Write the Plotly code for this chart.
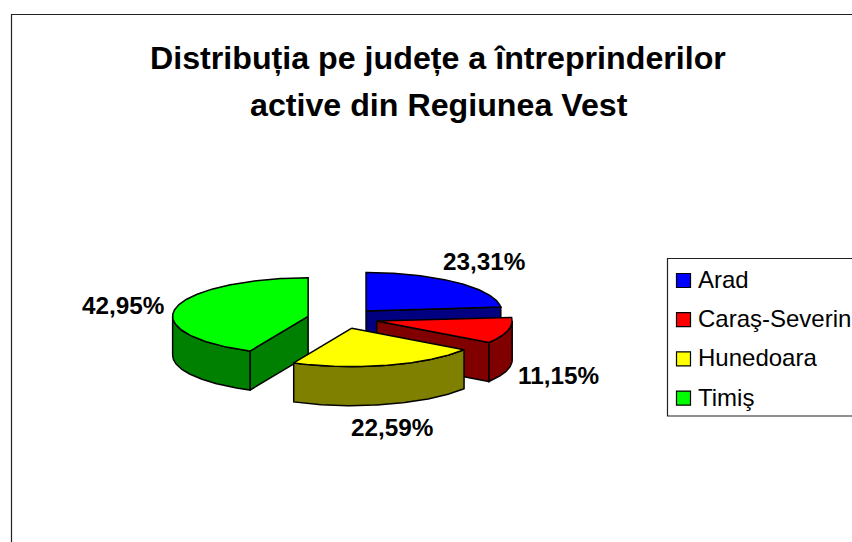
import numpy as np
import plotly.graph_objects as go

counties = ["Arad", "Caraş-Severin", "Hunedoara", "Timiş"]
shares = [23.31, 11.15, 22.59, 42.95]
top_colors = ["#0000FF", "#FF0000", "#FFFF00", "#00FF00"]
side_colors = ["#000080", "#800000", "#808000", "#008000"]
title_lines = ["Distribuția pe județe a întreprinderilor", "active din Regiunea Vest"]

W, H = 852, 542
CX, CY = 342.5, 318.5    # pie centre in pixels
RX, RY = 135.5, 38.5     # ellipse radii
DEPTH = 39               # extrusion height
EXPLODE = 0.26           # explosion as fraction of radius
label_pos = [(484, 261), (558, 375), (392, 427), (123, 305)]

fig = go.Figure()


def pt(ang, ox, oy, r=1.0, dz=0.0):
    a = np.radians(ang)
    return ox + RX * r * np.sin(a), oy - RY * r * np.cos(a) + dz


def poly(xs, ys, color):
    fig.add_trace(go.Scatter(
        x=list(xs) + [xs[0]], y=list(ys) + [ys[0]], mode="lines", fill="toself",
        fillcolor=color, line=dict(color="black", width=1.5),
        showlegend=False, hoverinfo="skip"))


# slice angles, clockwise from 12 o'clock
edges = np.concatenate([[0], np.cumsum(shares)]) / sum(shares) * 360
slices = []
for i, name in enumerate(counties):
    a0, a1 = edges[i], edges[i + 1]
    mid = np.radians((a0 + a1) / 2)
    ox = CX + EXPLODE * RX * np.sin(mid)
    oy = CY - EXPLODE * RY * np.cos(mid)
    slices.append((i, a0, a1, ox, oy))

# painter's order: back slices first
for i, a0, a1, ox, oy in sorted(slices, key=lambda s: s[4]):
    # radial side faces which look towards the viewer
    for ang, visible in ((a1, np.sin(np.radians(a1)) > 0.001),
                         (a0, np.sin(np.radians(a0)) < -0.001)):
        if visible:
            ex, ey = pt(ang, ox, oy)
            poly([ox, ex, ex, ox], [oy, ey, ey + DEPTH, oy + DEPTH], side_colors[i])
    # outer rim, front half of the ellipse only
    lo, hi = max(a0, 90), min(a1, 270)
    if lo < hi:
        ang = np.linspace(lo, hi, 80)
        ax, ay = pt(ang, ox, oy)
        poly(np.r_[ax, ax[::-1]], np.r_[ay, (ay + DEPTH)[::-1]], side_colors[i])
    # top face
    ang = np.linspace(a0, a1, 160)
    ax, ay = pt(ang, ox, oy)
    poly(np.r_[ox, ax], np.r_[oy, ay], top_colors[i])

# legend swatches
LEG_X, LEG_Y, LEG_STEP = 683.5, 280.5, 39.2
for i, name in enumerate(counties):
    fig.add_trace(go.Scatter(
        x=[LEG_X], y=[LEG_Y + i * LEG_STEP], mode="markers", name=name,
        marker=dict(symbol="square", size=14, color=top_colors[i],
                    line=dict(color="black", width=1.2)),
        showlegend=False, hoverinfo="skip"))

annotations = []
for i, name in enumerate(counties):
    annotations.append(dict(x=696, y=LEG_Y + i * LEG_STEP - 1, text=name, xref="x", yref="y",
                            xanchor="left", yanchor="middle", showarrow=False,
                            font=dict(family="Liberation Sans", size=24, color="black")))
    lx, ly = label_pos[i]
    annotations.append(dict(x=lx, y=ly, text=f"{shares[i]:.2f}%".replace(".", ","), xref="x", yref="y",
                            xanchor="center", yanchor="middle", showarrow=False,
                            font=dict(family="Liberation Sans", size=24.3, color="black", weight="bold")))
for line, tx, ty in zip(title_lines, (438, 439), (58, 105)):
    annotations.append(dict(x=tx, y=ty, text=line, xref="x", yref="y",
                            xanchor="center", yanchor="middle", showarrow=False,
                            font=dict(family="Liberation Sans", size=32.2, color="black", weight="bold")))

shapes = [
    dict(type="rect", xref="x", yref="y", x0=11.5, y0=14.5, x1=W + 20, y1=H + 20,
         line=dict(color="#222222", width=1.2), fillcolor="rgba(0,0,0,0)", layer="below"),
    dict(type="rect", xref="x", yref="y", x0=667.5, y0=258.5, x1=W + 20, y1=416,
         line=dict(color="#222222", width=1.2), fillcolor="rgba(0,0,0,0)", layer="below"),
]

fig.update_layout(
    width=W, height=H, margin=dict(l=0, r=0, t=0, b=0),
    paper_bgcolor="white", plot_bgcolor="white", showlegend=False,
    xaxis=dict(range=[0, W], visible=False, fixedrange=True),
    yaxis=dict(range=[H, 0], visible=False, fixedrange=True),
    annotations=annotations, shapes=shapes,
)
fig.write_html("out.html", config=dict(displayModeBar=False),
               post_script="document.body.style.margin='0';document.body.style.overflow='hidden';")
